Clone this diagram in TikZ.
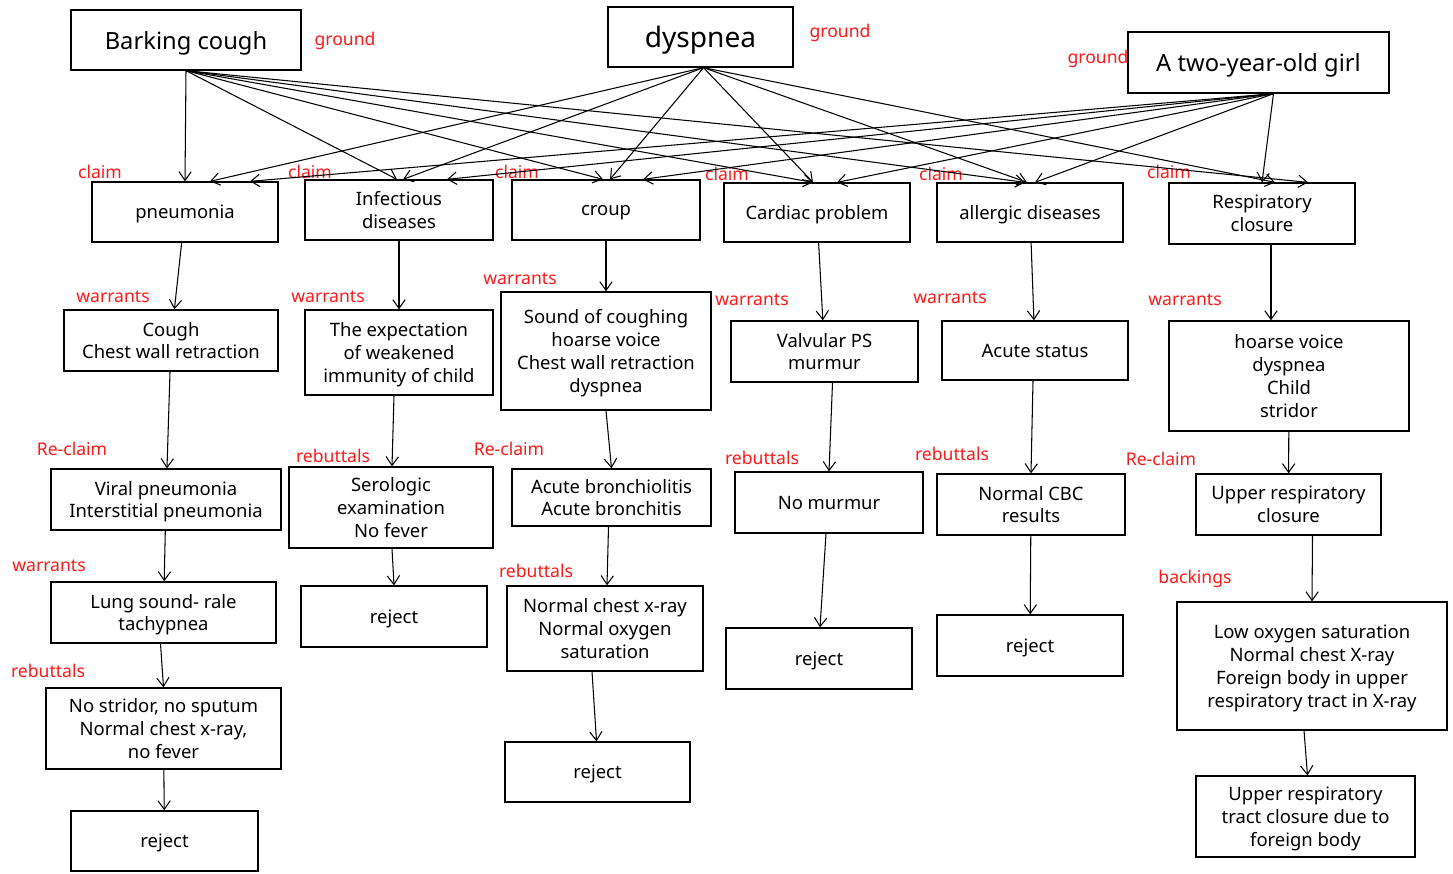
\documentclass[tikz,border=0pt]{standalone}
\usepackage{fontspec}
\setmainfont{Noto Sans}
\usetikzlibrary{arrows.meta,calc}
\tikzset{>={Straight Barb[length=5pt,width=7pt]}}

\begin{document}
\begin{tikzpicture}[x=0.02cm, y=-0.02cm]
        % coordinates in pixels of the 1453x873 frame, y going down
        \tikzstyle{box}=[draw=black, line width=0.75pt, align=center, inner sep=0pt, text depth=0pt, font=\fontsize{10.5}{13}\selectfont]
        \tikzstyle{tag}=[text=red!90!white, inner sep=0pt, font=\fontsize{10}{12}\selectfont]
        \tikzstyle{arr}=[->, line width=0.6pt]
        \fill[white] (0,0) rectangle (1453,873);
        \useasboundingbox (0,0) rectangle (1453,873);

        % grounds
        \node[box, minimum width=4.6cm, minimum height=1.2cm, font=\fontsize{13.5}{16}\selectfont] (bark) at (186,40) {Barking cough};
        \node[box, minimum width=3.7cm, minimum height=1.2cm, font=\fontsize{16}{19}\selectfont] (dysp) at (700.5,37) {dyspnea};
        \node[box, minimum width=5.22cm, minimum height=1.22cm, font=\fontsize{13.5}{16}\selectfont] (girl) at (1258.5,62.5) {A two-year-old girl};

        % claims
        \node[box, minimum width=3.72cm, minimum height=1.2cm] (pneu) at (185,212) {pneumonia};
        \node[box, minimum width=3.76cm, minimum height=1.2cm] (infe) at (399,210) {Infectious\\diseases};
        \node[box, minimum width=3.76cm, minimum height=1.2cm] (croup) at (606,210) {croup};
        \node[box, minimum width=3.72cm, minimum height=1.18cm] (card) at (817,212.5) {Cardiac problem};
        \node[box, minimum width=3.72cm, minimum height=1.18cm] (aller) at (1030,212.5) {allergic diseases};
        \node[box, minimum width=3.72cm, minimum height=1.22cm] (resp) at (1262,213.5) {Respiratory\\closure};

        % warrants
        \node[box, minimum width=4.28cm, minimum height=1.22cm] (cough) at (171,340.5) {Cough\\Chest wall retraction};
        \node[box, minimum width=3.76cm, minimum height=1.7cm] (immun) at (399,352.5) {The expectation\\of weakened\\immunity of child};
        \node[box, minimum width=4.2cm, minimum height=2.36cm] (sound) at (606,351) {Sound of coughing\\hoarse voice\\Chest wall retraction\\dyspnea};
        \node[box, minimum width=3.74cm, minimum height=1.22cm] (valv) at (824.5,351.5) {Valvular PS\\murmur};
        \node[box, minimum width=3.72cm, minimum height=1.18cm] (acute) at (1035,350.5) {Acute status};
        \node[box, minimum width=4.8cm, minimum height=2.2cm] (hoarse) at (1289,376) {hoarse voice\\dyspnea\\Child\\stridor};

        % re-claims / rebuttals
        \node[box, minimum width=4.6cm, minimum height=1.22cm] (viral) at (166,499.5) {Viral pneumonia\\Interstitial pneumonia};
        \node[box, minimum width=4.08cm, minimum height=1.62cm] (sero) at (391,507.5) {Serologic\\examination\\No fever};
        \node[box, minimum width=3.98cm, minimum height=1.14cm] (bronch) at (611.5,497.5) {Acute bronchiolitis\\Acute bronchitis};
        \node[box, minimum width=3.76cm, minimum height=1.22cm] (nomur) at (829,502.5) {No murmur};
        \node[box, minimum width=3.76cm, minimum height=1.22cm] (cbc) at (1031,504.5) {Normal CBC\\results};
        \node[box, minimum width=3.7cm, minimum height=1.22cm] (upper) at (1288.5,504.5) {Upper respiratory\\closure};

        \node[box, minimum width=4.5cm, minimum height=1.22cm] (lung) at (163.5,612.5) {Lung sound- rale\\tachypnea};
        \node[box, minimum width=3.72cm, minimum height=1.22cm] (rejB) at (394,616.5) {reject};
        \node[box, minimum width=3.92cm, minimum height=1.7cm] (xray) at (605,628.5) {Normal chest x-ray\\Normal oxygen\\saturation};
        \node[box, minimum width=3.72cm, minimum height=1.22cm] (rejD) at (819,658.5) {reject};
        \node[box, minimum width=3.72cm, minimum height=1.22cm] (rejE) at (1030,645.5) {reject};
        \node[box, minimum width=5.4cm, minimum height=2.56cm] (lowox) at (1312,666) {Low oxygen saturation\\Normal chest X-ray\\Foreign body in upper\\respiratory tract in X-ray};

        \node[box, minimum width=4.7cm, minimum height=1.62cm] (nostr) at (163.5,728.5) {No stridor, no sputum\\Normal chest x-ray,\\no fever};
        \node[box, minimum width=3.7cm, minimum height=1.2cm] (rejC) at (597.5,772) {reject};
        \node[box, minimum width=4.38cm, minimum height=1.62cm] (foreign) at (1305.5,816.5) {Upper respiratory\\tract closure due to\\foreign body};
        \node[box, minimum width=3.74cm, minimum height=1.2cm] (rejA) at (164.5,841) {reject};

        % red tags
        \node[tag] (tg1) at (345,41) {ground};
        \node[tag] (tg2) at (840,33) {ground};
        \node[tag] (tg3) at (1098,59) {ground};
        \node[tag] (tc1) at (100,172) {claim};
        \node[tag] (tc2) at (310,172) {claim};
        \node[tag] (tc3) at (517,172) {claim};
        \node[tag] (tc4) at (727,174) {claim};
        \node[tag] (tc5) at (941,174) {claim};
        \node[tag] (tc6) at (1169,172) {claim};
        \node[tag] (tw1) at (113,297) {warrants};
        \node[tag] (tw2) at (328,297) {warrants};
        \node[tag] (tw3) at (520,279) {warrants};
        \node[tag] (tw4) at (752,300) {warrants};
        \node[tag] (tw5) at (950,298) {warrants};
        \node[tag] (tw6) at (1185,300) {warrants};
        \node[tag] (tw7) at (49,566) {warrants};
        \node[tag] (tr1) at (72,449) {Re-claim};
        \node[tag] (tr2) at (509,449) {Re-claim};
        \node[tag] (tr3) at (1161,459) {Re-claim};
        \node[tag] (tb1) at (333,456) {rebuttals};
        \node[tag] (tb2) at (762,458) {rebuttals};
        \node[tag] (tb3) at (952,454) {rebuttals};
        \node[tag] (tb4) at (536,571) {rebuttals};
        \node[tag] (tb5) at (48,671) {rebuttals};
        \node[tag] (tk1) at (1195,579) {backings};

        % grounds -> claims
        \draw[arr] (bark.south) -- (pneu.north);
        \draw[arr] (bark.south) -- ($(infe.north)+(-2,0)$);
        \draw[arr] (bark.south) -- ($(croup.north)+(-3,0)$);
        \draw[arr] (bark.south) -- ($(card.north)+(-4,0)$);
        \draw[arr] (bark.south) -- ($(aller.north)+(-5,0)$);
        \draw[arr] (bark.south) -- ($(resp.north)+(46,0)$);

        \draw[arr] ($(dysp.south)+(3,0)$) -- ($(pneu.north)+(25,0)$);
        \draw[arr] ($(dysp.south)+(3,0)$) -- ($(infe.north)+(4,0)$);
        \draw[arr] ($(dysp.south)+(3,0)$) -- ($(croup.north)+(4,0)$);
        \draw[arr] ($(dysp.south)+(3,0)$) -- ($(card.north)+(-4,0)$);
        \draw[arr] ($(dysp.south)+(3,0)$) -- ($(aller.north)+(-3,0)$);
        \draw[arr] ($(dysp.south)+(3,0)$) -- ($(resp.north)+(13,0)$);

        \draw[arr] ($(girl.south)+(15,0)$) -- ($(pneu.north)+(65,0)$);
        \draw[arr] ($(girl.south)+(15,0)$) -- ($(infe.north)+(48,0)$);
        \draw[arr] ($(girl.south)+(15,0)$) -- ($(croup.north)+(37,0)$);
        \draw[arr] ($(girl.south)+(15,0)$) -- ($(card.north)+(20,0)$);
        \draw[arr] ($(girl.south)+(15,0)$) -- ($(aller.north)+(5,0)$);
        \draw[arr] ($(girl.south)+(15,0)$) -- (resp.north);

        % chains
        \draw[arr] (pneu) -- (cough);
        \draw[arr] (cough) -- (viral);
        \draw[arr] (viral) -- (lung);
        \draw[arr] ($(lung.south)+(-3,0)$) -- (nostr.north);
        \draw[arr] (nostr) -- (rejA);

        \draw[arr] (infe) -- (immun);
        \draw[arr] ($(immun.south)+(-5,0)$) -- ($(sero.north)+(1,0)$);
        \draw[arr] ($(sero.south)+(1,0)$) -- (rejB.north);

        \draw[arr] (croup) -- (sound);
        \draw[arr] (sound.south) -- (bronch.north);
        \draw[arr] ($(bronch.south)+(-3,0)$) -- ($(xray.north)+(2,0)$);
        \draw[arr] ($(xray.south)+(-13,0)$) -- ($(rejC.north)+(-1,0)$);

        \draw[arr] (card) -- (valv);
        \draw[arr] ($(valv.south)+(8,0)$) -- (nomur.north);
        \draw[arr] ($(nomur.south)+(-3,0)$) -- ($(rejD.north)+(1,0)$);

        \draw[arr] (aller) -- (acute);
        \draw[arr] ($(acute.south)+(-2,0)$) -- (cbc.north);
        \draw[arr] (cbc) -- (rejE);

        \draw[arr] ($(resp.south)+(9,0)$) -- ($(hoarse.north)+(-18,0)$);
        \draw[arr] (hoarse) -- (upper);
        \draw[arr] ($(upper.south)+(24,0)$) -- (lowox.north);
        \draw[arr] ($(lowox.south)+(-8,0)$) -- ($(foreign.north)+(2,0)$);

\end{tikzpicture}
\end{document}
